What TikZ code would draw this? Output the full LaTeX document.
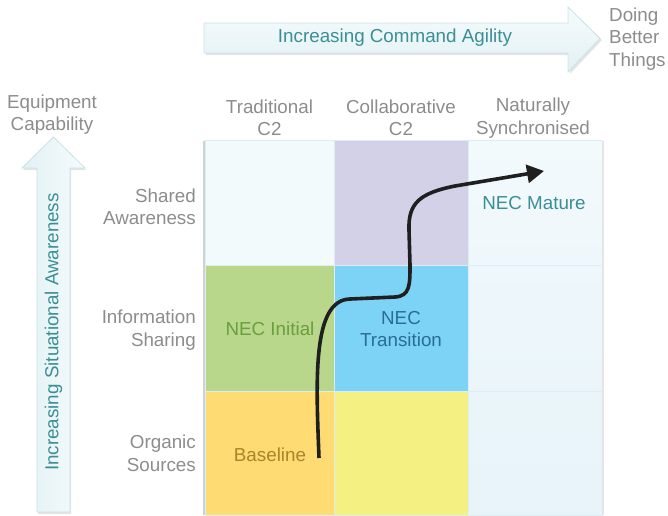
\documentclass[tikz,border=0pt]{standalone}
\usepackage{fontspec}
\setmainfont{Liberation Sans}
\usetikzlibrary{arrows.meta}
\definecolor{lbl}{HTML}{8C8C8C}
\definecolor{teal}{HTML}{3A8F96}
\definecolor{arrtop}{HTML}{F5FBFC}
\definecolor{arrbot}{HTML}{E2F1F4}
\definecolor{arredge}{HTML}{C9E2E7}
\definecolor{cpale}{HTML}{F3FAFC}
\definecolor{cpale2}{HTML}{EEF7FB}
\definecolor{cpale3}{HTML}{E8F4FA}
\definecolor{clav}{HTML}{D3D1E8}
\definecolor{cgreen}{HTML}{B8D78A}
\definecolor{cblue}{HTML}{7DD3F5}
\definecolor{corange}{HTML}{FEDB73}
\definecolor{cyellow}{HTML}{F5F082}
\definecolor{tgreen}{HTML}{6A9E3F}
\definecolor{tblue}{HTML}{2A6D94}
\definecolor{tbase}{HTML}{A8852A}
\definecolor{gridline}{HTML}{DCEEF4}
\begin{document}
\begin{tikzpicture}[x=1pt,y=-1pt,
  txt/.style={font=\fontsize{18.8}{22.5}\selectfont, align=center, inner sep=0pt},
  rowlbl/.style={txt, align=right, anchor=east, text=lbl},
  collbl/.style={txt, text=lbl},
  cell/.style={draw=gridline, line width=0.8pt},
  bigarrow/.style={draw=arredge, line width=0.8pt},
  shadow/.style={fill=black!30, opacity=0.35}
]
\useasboundingbox (0,0) rectangle (668,515);

% --- top arrow ---
\fill[shadow] (206,25) -- (570,25) -- (570,9) -- (602,40) -- (570,74) -- (570,55) -- (206,55) -- cycle;
\shade[top color=arrtop, bottom color=arrbot, bigarrow]
  (204,23) -- (568,23) -- (568,7) -- (600,38.5) -- (568,72) -- (568,53) -- (204,53) -- cycle;
\node[txt, text=teal] (agility) at (395,38) {Increasing Command Agility};
\node[txt, text=lbl, align=left, anchor=west] (better) at (609,39) {Doing\\Better\\Things};

% --- left arrow ---
\fill[shadow] (38,170) -- (23,170) -- (54.5,139) -- (86,170) -- (71,170) -- (71,514) -- (38,514) -- cycle;
\shade[left color=arrbot, right color=arrtop, bigarrow]
  (37,168) -- (22,168) -- (53.5,137) -- (85,168) -- (70,168) -- (70,512) -- (37,512) -- cycle;
\node[txt, text=teal, rotate=90] (sitaw) at (53.5,332) {Increasing Situational Awareness};
\node[txt, text=lbl] (equip) at (52,114.5) {Equipment\\Capability};

% --- grid ---
\fill[black!18] (203,141) rectangle (205,515);
\shade[cell, top color=cpale, bottom color=cpale!85!cpale2] (205,140) rectangle (334,265);
\fill[clav, cell] (334,140) rectangle (468,265);
\shade[cell, top color=cpale, bottom color=cpale2] (468,140) rectangle (602,265);
\fill[cgreen, cell] (205,265) rectangle (334,391);
\fill[cblue, cell] (334,265) rectangle (468,391);
\shade[cell, top color=cpale2, bottom color=cpale3!60!cpale2] (468,265) rectangle (602,391);
\fill[corange, cell] (205,391) rectangle (334,515);
\fill[cyellow, cell] (334,391) rectangle (468,515);
\shade[cell, top color=cpale3!60!cpale2, bottom color=cpale3] (468,391) rectangle (602,515);
\fill[black!10] (602,141) rectangle (604,515);

% --- column headers ---
\node[collbl] (trad) at (269.5,118) {Traditional\\C2};
\node[collbl] (collab) at (401,118) {Collaborative\\C2};
\node[collbl] (natsync) at (533,118) {Naturally\\Synchronised};

% --- row labels ---
\node[rowlbl] (shared) at (196,207) {Shared\\Awareness};
\node[rowlbl] (infosh) at (196,330) {Information\\Sharing};
\node[rowlbl] (organic) at (196,453.5) {Organic\\Sources};

% --- cell labels ---
\node[txt, text=tgreen] (initial) at (270,329) {NEC Initial};
\node[txt, text=tblue] (transition) at (401,329) {NEC\\Transition};
\node[txt, text=tbase] (baseline) at (270,454.5) {Baseline};
\node[txt, text=teal] (mature) at (534,203) {NEC Mature};

% --- path ---
\coordinate (pstart) at (319,458);
\coordinate (pend) at (544,171);
\draw[line width=3.6pt, draw=black!88, -{Triangle[length=17pt,width=18pt]}]
  (pstart) .. controls (316,380) and (312,300) .. (350,299)
  -- (395,297) .. controls (410,296) and (410,285) .. (410,265)
  -- (409,230) .. controls (408,203) and (420,193) .. (455,186)
  -- (pend);
\end{tikzpicture}
\end{document}
